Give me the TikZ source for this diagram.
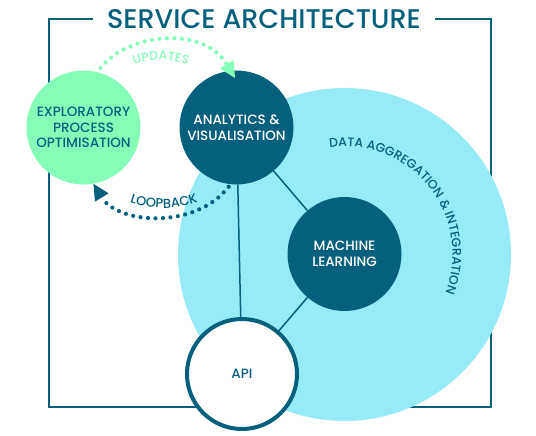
\documentclass[tikz,border=0pt]{standalone}
\usepackage{fontspec}
\setmainfont{Poppins}[UprightFont={* Medium}]
\newfontfamily\titlefont{Poppins}[UprightFont={* Medium}]
\usetikzlibrary{arrows.meta,decorations.text}
\definecolor{darkteal}{HTML}{05607E}
\definecolor{mintgreen}{HTML}{86FCB9}
\definecolor{lightcyan}{HTML}{97EAF8}
\pgfdeclarelayer{back}
\pgfdeclarelayer{mid}
\pgfsetlayers{back,mid,main}
\begin{document}
\begin{tikzpicture}[x=1pt,y=1pt,
  circ/.style={circle, inner sep=0pt, align=center, font=\fontsize{13.5}{15.5}\selectfont},
  darkcirc/.style={circ, fill=darkteal, text=white, minimum size=114pt},
  mintcirc/.style={circ, fill=mintgreen, text=darkteal, minimum size=114pt},
  apicirc/.style={circ, fill=white, draw=darkteal, line width=4pt, text=darkteal, minimum size=110pt},
  bigcirc/.style={circle, inner sep=0pt, fill=lightcyan, minimum size=333pt},
  framestyle/.style={draw=darkteal, line width=1.8pt},
  titlestyle/.style={text=darkteal, font=\titlefont\fontsize{27}{30}\selectfont, inner sep=0pt},
  link/.style={draw=darkteal, line width=1.5pt},
  dotline/.style={line width=4.2pt, line cap=round, dash pattern=on 0pt off 7.5pt,
     -{Triangle[length=16pt,width=16pt,line width=0pt]}},
  arctext/.style={decorate, decoration={text along path, text align=center}}
]
\useasboundingbox (0,0) rectangle (536,-436);
\begin{pgfonlayer}{back}
  \draw[framestyle] (93,-19) -- (49,-19) -- (49,-407) -- (491,-407) -- (491,-19) -- (435,-19);
  \node[bigcirc] (big) at (344.5,-254.5) {};
\end{pgfonlayer}
\node[titlestyle] (title) at (264,-19) {SERVICE ARCHITECTURE};
\node[mintcirc] (exp) at (83.5,-127.5) {EXPLORATORY\\PROCESS\\OPTIMISATION};
\node[darkcirc] (ana) at (236.5,-127.5) {ANALYTICS \&\\VISUALISATION};
\node[darkcirc] (ml) at (344.5,-254) {MACHINE\\LEARNING};
\node[apicirc] (api) at (242,-374) {API};
\begin{pgfonlayer}{mid}
  \draw[link] (ana) -- (api);
  \draw[link] (ana) -- (ml);
  \draw[link] (ml) -- (api);
\end{pgfonlayer}
\coordinate (updtip) at (235,-78);
\draw[dotline, draw=mintgreen, shorten <=5pt]
  (exp.76) .. controls (128,-33) and (203,-25) .. (updtip);
\draw[dotline, draw=darkteal, shorten <=3pt]
  (ana.264) .. controls (195,-230) and (118,-224) .. (exp.280);
\path[arctext, decoration={text={|\color{mintgreen}\fontsize{12.5}{14}\selectfont|UPDATES}}]
  ([shift={(140:77pt)}]161,-137) arc[start angle=140, end angle=40, radius=77pt];
\path[arctext, decoration={text={|\color{darkteal}\fontsize{13}{14}\selectfont|LOOPBACK}}]
  ([shift={(220:108pt)}]164,-100) arc[start angle=220, end angle=320, radius=108pt];
\path[arctext, decoration={text={|\color{darkteal}\fontsize{12.5}{14}\selectfont|DATA AGGREGATION {\&} INTEGRATION}}]
  ([shift={(140:108pt)}]344.5,-254.5) arc[start angle=140, end angle=-63, radius=108pt];
\end{tikzpicture}
\end{document}
